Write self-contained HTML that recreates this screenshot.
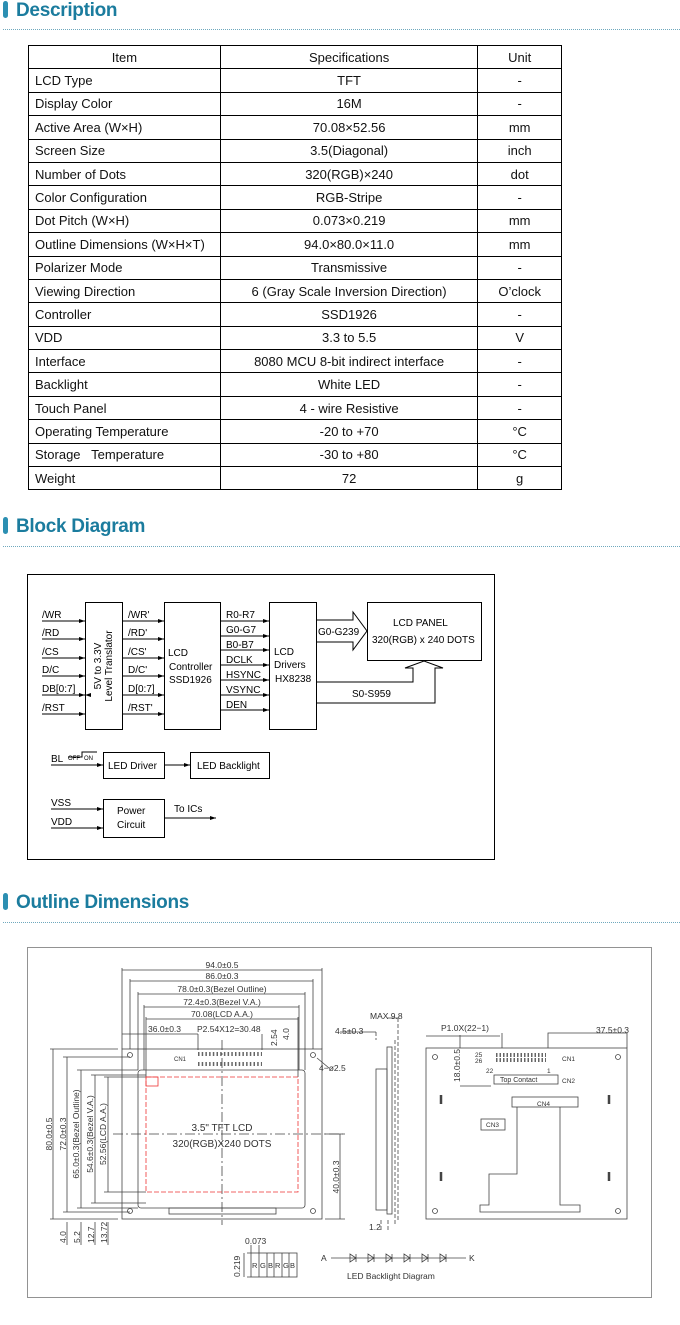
<!DOCTYPE html>
<html><head><meta charset="utf-8"><style>
body{margin:0;background:#fff;width:680px;height:1325px;position:relative;overflow:hidden;font-family:"Liberation Sans",sans-serif}
.h{position:absolute;left:0;font:bold 19px "Liberation Sans",sans-serif;color:#1b7c9e;letter-spacing:-0.3px}
.h i{display:inline-block;width:5px;height:17px;background:#2c8fb2;border-radius:3px;margin:0 8px 0 3px;vertical-align:-2px}
.d{position:absolute;left:3px;width:677px;border-top:1.5px dotted #6fa8bd}
table{position:absolute;left:28px;top:45px;border-collapse:collapse;width:534px;font-size:13px;color:#111}
td{border:1px solid #000;height:22.4px;padding:0 0 0 6px;white-space:nowrap}
td.c{text-align:center;padding:0}
</style></head><body>
<div class="h" style="top:0"><i></i>Description</div><div class="d" style="top:29px"></div>
<table>
<colgroup><col style="width:192px"><col style="width:258px"><col style="width:84px"></colgroup>
<tr><td class="c">Item</td><td class="c">Specifications</td><td class="c">Unit</td></tr>
<tr><td>LCD Type</td><td class="c">TFT</td><td class="c">-</td></tr>
<tr><td>Display Color</td><td class="c">16M</td><td class="c">-</td></tr>
<tr><td>Active Area (W×H)</td><td class="c">70.08×52.56</td><td class="c">mm</td></tr>
<tr><td>Screen Size</td><td class="c">3.5(Diagonal)</td><td class="c">inch</td></tr>
<tr><td>Number of Dots</td><td class="c">320(RGB)×240</td><td class="c">dot</td></tr>
<tr><td>Color Configuration</td><td class="c">RGB-Stripe</td><td class="c">-</td></tr>
<tr><td>Dot Pitch (W×H)</td><td class="c">0.073×0.219</td><td class="c">mm</td></tr>
<tr><td>Outline Dimensions (W×H×T)</td><td class="c">94.0×80.0×11.0</td><td class="c">mm</td></tr>
<tr><td>Polarizer Mode</td><td class="c">Transmissive</td><td class="c">-</td></tr>
<tr><td>Viewing Direction</td><td class="c">6 (Gray Scale Inversion Direction)</td><td class="c">O’clock</td></tr>
<tr><td>Controller</td><td class="c">SSD1926</td><td class="c">-</td></tr>
<tr><td>VDD</td><td class="c">3.3 to 5.5</td><td class="c">V</td></tr>
<tr><td>Interface</td><td class="c">8080 MCU 8-bit indirect interface</td><td class="c">-</td></tr>
<tr><td>Backlight</td><td class="c">White LED</td><td class="c">-</td></tr>
<tr><td>Touch Panel</td><td class="c">4 - wire Resistive</td><td class="c">-</td></tr>
<tr><td>Operating Temperature</td><td class="c">-20 to +70</td><td class="c">°C</td></tr>
<tr><td>Storage &nbsp; Temperature</td><td class="c">-30 to +80</td><td class="c">°C</td></tr>
<tr><td>Weight</td><td class="c">72</td><td class="c">g</td></tr>
</table>
<div class="h" style="top:516px"><i></i>Block Diagram</div><div class="d" style="top:546px"></div>
<div class="h" style="top:892px"><i></i>Outline Dimensions</div><div class="d" style="top:922px"></div>

<svg width="680" height="1325" style="position:absolute;left:0;top:0" font-family="Liberation Sans,sans-serif">
<defs><marker id="a" markerWidth="6" markerHeight="4" refX="6" refY="2" orient="auto" markerUnits="userSpaceOnUse"><path d="M0,0L6,2L0,4z" fill="#000"/></marker></defs>
<g fill="none" stroke="#000" stroke-width="1">
<rect x="27.5" y="574.5" width="467" height="285"/>
<rect x="85.5" y="602.5" width="37" height="127"/>
<rect x="164.5" y="602.5" width="56" height="127"/>
<rect x="269.5" y="602.5" width="47" height="127"/>
<rect x="367.5" y="602.5" width="114" height="58"/>
<rect x="103.5" y="752.5" width="61" height="26"/>
<rect x="190.5" y="752.5" width="79" height="26"/>
<rect x="103.5" y="799.5" width="61" height="38"/>
<g marker-end="url(#a)">
<line x1="42" y1="621" x2="85" y2="621"/><line x1="42" y1="639" x2="85" y2="639"/><line x1="42" y1="658" x2="85" y2="658"/><line x1="42" y1="676" x2="85" y2="676"/><line x1="42" y1="695" x2="85" y2="695"/><line x1="42" y1="714" x2="85" y2="714"/>
<line x1="123" y1="621" x2="164" y2="621"/><line x1="123" y1="639" x2="164" y2="639"/><line x1="123" y1="658" x2="164" y2="658"/><line x1="123" y1="676" x2="164" y2="676"/><line x1="123" y1="695" x2="164" y2="695"/><line x1="123" y1="714" x2="164" y2="714"/>
<line x1="221" y1="621" x2="269" y2="621"/><line x1="221" y1="636" x2="269" y2="636"/><line x1="221" y1="650" x2="269" y2="650"/><line x1="221" y1="665" x2="269" y2="665"/><line x1="221" y1="680" x2="269" y2="680"/><line x1="221" y1="695" x2="269" y2="695"/><line x1="221" y1="710" x2="269" y2="710"/>
<line x1="51" y1="765" x2="103" y2="765"/><line x1="165" y1="765" x2="190" y2="765"/><line x1="51" y1="809" x2="103" y2="809"/><line x1="51" y1="828" x2="103" y2="828"/><line x1="165" y1="818" x2="216" y2="818"/>
</g>
<g marker-start="url(#a)"><line x1="85" y1="695" x2="42" y2="695" stroke="none"/></g>
<path d="M316 620H353V612L367 631L353 650V642H316"/>
<path d="M316 682H413V668H405L424 661L443 668H435V703H316"/>
<path d="M68 757H82V752H97"/>
</g>
<g font-size="10" fill="#000">
<text x="42" y="618">/WR</text><text x="42" y="636">/RD</text><text x="42" y="655">/CS</text><text x="42" y="673">D/C</text><text x="42" y="692">DB[0:7]</text><text x="42" y="711">/RST</text>
<text x="128" y="618">/WR'</text><text x="128" y="636">/RD'</text><text x="128" y="655">/CS'</text><text x="128" y="673">D/C'</text><text x="128" y="692">D[0:7]</text><text x="128" y="711">/RST'</text>
<text x="226" y="618">R0-R7</text><text x="226" y="633">G0-G7</text><text x="226" y="648">B0-B7</text><text x="226" y="663">DCLK</text><text x="226" y="678">HSYNC</text><text x="226" y="693">VSYNC</text><text x="226" y="708">DEN</text>
<text x="168" y="656">LCD</text><text x="169" y="670">Controller</text><text x="169" y="683">SSD1926</text>
<text x="274" y="655">LCD</text><text x="274" y="668">Drivers</text><text x="275" y="682">HX8238</text>
<text x="318" y="635">G0-G239</text><text x="352" y="697">S0-S959</text>
<text x="393" y="626">LCD  PANEL</text><text x="372" y="643">320(RGB) x 240 DOTS</text>
<text x="108" y="769">LED Driver</text><text x="197" y="769">LED Backlight</text>
<text x="117" y="814">Power</text><text x="117" y="828">Circuit</text><text x="174" y="812">To ICs</text>
<text x="51" y="762">BL</text><text x="51" y="806">VSS</text><text x="51" y="825">VDD</text>
<text x="68" y="760" font-size="6">OFF</text><text x="84" y="760" font-size="6">ON</text>
<text transform="translate(101,666) rotate(-90)" text-anchor="middle">5V to 3.3V</text>
<text transform="translate(112,666) rotate(-90)" text-anchor="middle">Level Translator</text>
</g>

<!-- outline -->
<g fill="none" stroke="#444" stroke-width="0.8">
<rect x="27.5" y="947.5" width="624" height="350" stroke="#777"/>
<rect x="122" y="1049" width="200" height="170"/>
<rect x="138" y="1070" width="167" height="138" rx="3"/>
<rect x="169" y="1208" width="107" height="6"/>
<circle cx="130" cy="1055" r="2.5"/><circle cx="313" cy="1055" r="2.5"/><circle cx="130" cy="1211" r="2.5"/><circle cx="313" cy="1211" r="2.5"/>
<path d="M122 1049V968M322 1049V968M122 970H322M130 1049V979M313 1049V979M130 981H313M138 1070V992M305 1070V992M138 994H305M144 1070V1005M299 1070V1005M144 1007H299M146 1077V1017M298 1077V1017M146 1019H298M122 1034H198M198 1034V1050M262 1034V1050"/>
<path d="M118 1049H50M118 1219H50M53 1049V1219M67 1057V1212M63 1057H130M63 1212H130M81 1070V1208M77 1070H138M77 1208H138M95 1075V1203M91 1075H146M91 1203H146M108 1077V1192M104 1077H146M104 1192H146"/>
<path d="M67 1222V1245M81 1222V1245M95 1222V1245M108 1222V1245M340 1134V1219M325 1134H345M325 1219H345"/>
<path d="M113 1134H343M222 1040V1225" stroke-dasharray="10,3,2,3"/>
<path d="M317 1058L329 1068"/>
<rect x="146" y="1077" width="152" height="115" stroke="#e33" stroke-dasharray="5,2"/>
<rect x="146" y="1077" width="12" height="9" stroke="#e33"/>
<path d="M198 1054H262M198 1064H262" stroke-width="4" stroke="#666" stroke-dasharray="1.5,2.2"/>
<rect x="251" y="1253" width="46" height="24"/><path d="M259 1253V1277M267 1253V1277M274 1253V1277M282 1253V1277M289 1253V1277M247 1253H251M247 1277H251M244 1253V1277M251 1245V1253M259 1245V1253"/>
<path d="M331 1258H466"/>
<path d="M350 1254V1262L356 1258ZM356 1254V1262M368 1254V1262L374 1258ZM374 1254V1262M386 1254V1262L392 1258ZM392 1254V1262M404 1254V1262L410 1258ZM410 1254V1262M422 1254V1262L428 1258ZM428 1254V1262M440 1254V1262L446 1258ZM446 1254V1262"/>
<rect x="376" y="1069" width="11" height="141"/><rect x="387" y="1047" width="5" height="167"/>
<path d="M376 1032V1040M398 1018V1222M395 1040V1225M381 1220V1232M388 1220V1232" stroke-dasharray="4,2"/>
<path d="M376 1032H340M387 1018H398"/>
<rect x="426" y="1048" width="201" height="171"/>
<circle cx="435" cy="1057" r="2.5"/><circle cx="618" cy="1057" r="2.5"/><circle cx="435" cy="1211" r="2.5"/><circle cx="618" cy="1211" r="2.5"/>
<rect x="494" y="1075" width="64" height="9"/><rect x="512" y="1097" width="66" height="10"/>
<rect x="481" y="1119" width="24" height="11"/>
<path d="M517 1107V1174H489V1205H480V1212H580V1205H560V1107"/>
<path d="M460 1048V1035M548 1048V1033H627V1048M502 1048V1033M460 1086H491M426 1036H500"/>
<path d="M496 1055H546M496 1060H546" stroke-width="4" stroke="#666" stroke-dasharray="1.5,2"/>
<path d="M441 1095V1104M441 1172V1181M609 1095V1104M609 1172V1181" stroke-width="2.5"/>
</g>
<g font-size="8.5" fill="#333">
<text x="222" y="968" text-anchor="middle">94.0±0.5</text><text x="222" y="979" text-anchor="middle">86.0±0.3</text>
<text x="222" y="992" text-anchor="middle">78.0±0.3(Bezel Outline)</text><text x="222" y="1005" text-anchor="middle">72.4±0.3(Bezel V.A.)</text>
<text x="222" y="1017" text-anchor="middle">70.08(LCD A.A.)</text><text x="148" y="1032">36.0±0.3</text><text x="197" y="1032">P2.54X12=30.48</text>
<text transform="translate(277,1046) rotate(-90)">2.54</text><text transform="translate(289,1040) rotate(-90)">4.0</text>
<text x="174" y="1061" font-size="6">CN1</text><text x="319" y="1071">4−ø2.5</text>
<text x="222" y="1131" text-anchor="middle" font-size="10">3.5"  TFT  LCD</text>
<text x="222" y="1147" text-anchor="middle" font-size="10">320(RGB)X240  DOTS</text>
<text transform="translate(52,1134) rotate(-90)" text-anchor="middle">80.0±0.5</text>
<text transform="translate(66,1134) rotate(-90)" text-anchor="middle">72.0±0.3</text>
<text transform="translate(79,1134) rotate(-90)" text-anchor="middle">65.0±0.3(Bezel Outline)</text>
<text transform="translate(93,1134) rotate(-90)" text-anchor="middle">54.6±0.3(Bezel V.A.)</text>
<text transform="translate(106,1134) rotate(-90)" text-anchor="middle">52.56(LCD A.A.)</text>
<text transform="translate(339,1177) rotate(-90)" text-anchor="middle">40.0±0.3</text>
<text transform="translate(66,1243) rotate(-90)">4.0</text><text transform="translate(80,1243) rotate(-90)">5.2</text>
<text transform="translate(94,1243) rotate(-90)">12.7</text><text transform="translate(107,1243) rotate(-90)">13.72</text>
<text x="245" y="1244">0.073</text><text transform="translate(240,1277) rotate(-90)">0.219</text>
<text x="252" y="1268" font-size="7.5">R</text><text x="260" y="1268" font-size="7.5">G</text><text x="268" y="1268" font-size="7.5">B</text><text x="275" y="1268" font-size="7.5">R</text><text x="283" y="1268" font-size="7.5">G</text><text x="290" y="1268" font-size="7.5">B</text>
<text x="321" y="1261">A</text><text x="469" y="1261">K</text><text x="347" y="1279">LED  Backlight  Diagram</text>
<text x="335" y="1034">4.5±0.3</text><text x="370" y="1019">MAX 9.8</text><text x="369" y="1230">1.2</text>
<text x="441" y="1031">P1.0X(22−1)</text><text x="596" y="1033">37.5±0.3</text>
<text transform="translate(460,1082) rotate(-90)">18.0±0.5</text>
<text x="475" y="1057" font-size="6.5">25</text><text x="475" y="1063" font-size="6.5">26</text><text x="562" y="1061" font-size="6.5">CN1</text>
<text x="500" y="1082" font-size="7">Top Contact</text><text x="562" y="1083" font-size="6.5">CN2</text>
<text x="537" y="1106" font-size="6.5">CN4</text><text x="486" y="1127" font-size="6.5">CN3</text>
<text x="486" y="1073" font-size="6.5">22</text><text x="547" y="1073" font-size="6.5">1</text>
</g>
</svg>
</body></html>
